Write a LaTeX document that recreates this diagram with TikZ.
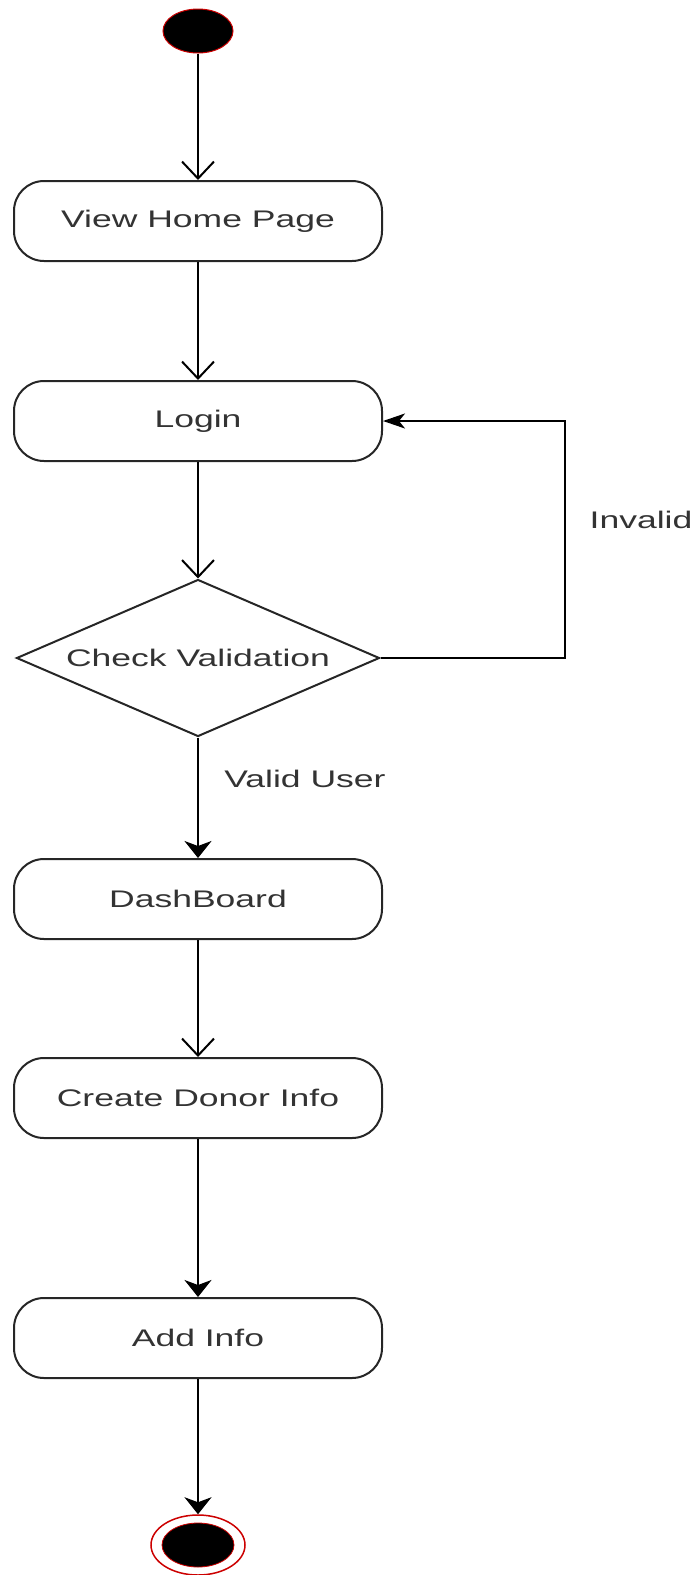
\documentclass[tikz,border=0pt]{standalone}
\usepackage{fontspec}
\setmainfont[FakeStretch=1.48]{Liberation Sans}
\usetikzlibrary{shapes.geometric, arrows.meta}
\definecolor{statered}{HTML}{CC0000}
\definecolor{textgray}{HTML}{333333}

\begin{document}
\begin{tikzpicture}[x=1pt, y=-1pt,
        every node/.style={font=\fontsize{24}{28}\selectfont, text=textgray},
        action/.style={draw=black!85, line width=2pt, rectangle, rounded corners=30pt, minimum width=368pt, minimum height=80pt, inner sep=0pt},
        decision/.style={draw=black!85, line width=2pt, diamond, aspect=2.31, minimum width=363pt, minimum height=157pt, inner sep=0pt},
        startstate/.style={draw=statered, line width=1pt, fill=black, ellipse, minimum width=70pt, minimum height=44pt, inner sep=0pt},
        endring/.style={draw=statered, line width=1.5pt, fill=white, ellipse, minimum width=94pt, minimum height=60pt, inner sep=0pt},
        enddot/.style={draw=statered, line width=0.8pt, fill=black, ellipse, minimum width=72pt, minimum height=44pt, inner sep=0pt},
        openarr/.style={line width=2pt, -{Straight Barb[length=17pt, width=32pt, line width=2pt]}},
        fillarr/.style={line width=2pt, -{Stealth[length=17pt, width=27pt, inset=5pt]}},
        sidearr/.style={line width=2pt, -{Stealth[length=22pt, width=15pt, inset=6pt]}}]
    \useasboundingbox (0,0) rectangle (700,1575);

    \node[startstate] (start) at (198,31) {};
    \node[action] (view-home) at (198,221) {View Home Page};
    \node[action] (login) at (198,421) {Login};
    \node[decision] (check) at (198,658) {Check Validation};
    \node[action] (dashboard) at (198,899) {DashBoard};
    \node[action] (create-donor) at (198,1098) {Create Donor Info};
    \node[action] (add-info) at (198,1338) {Add Info};
    \node[endring] (stop) at (198,1545) {};
    \node[enddot] (stop-dot) at (stop) {};

    \draw[openarr] (start) -- (view-home);
    \draw[openarr] (view-home) -- (login);
    \draw[openarr] (login) -- (check);
    \draw[fillarr] (check) -- (dashboard);
    \node (valid-user) at (305,779) {Valid User};
    \draw[openarr] (dashboard) -- (create-donor);
    \draw[fillarr] (create-donor) -- (add-info);
    \draw[fillarr] (add-info) -- (stop);

    \coordinate (loop-corner) at (565,421);
    \draw[sidearr] (check.east) -| (loop-corner) -- (login.east);
    \node (invalid) at (641,520) {Invalid};
\end{tikzpicture}
\end{document}
